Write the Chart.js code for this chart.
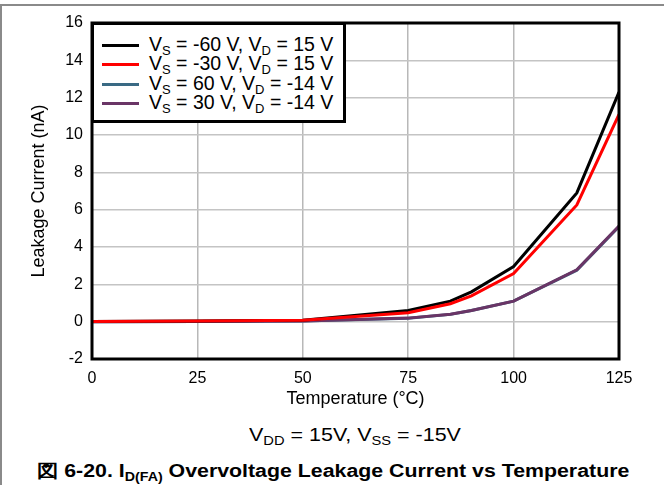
<!DOCTYPE html>
<html>
<head>
<meta charset="utf-8">
<script src="https://cdn.jsdelivr.net/npm/chart.js@4"></script>
<style>
  html, body { margin:0; padding:0; background:#fff; }
  #wrap { position:relative; width:664px; height:485px; overflow:hidden; font-family:"Liberation Sans", Arial, sans-serif; }
  #frameTop { position:absolute; left:0; top:4px; width:664px; height:2px; background:#8a8a8a; }
  #frameLeft { position:absolute; left:0; top:4px; width:2px; height:481px; background:#8a8a8a; }
  canvas { position:absolute; left:0; top:0; }
  #legend { position:absolute; left:91px; top:22px; width:249px; height:95px; border:3px solid #000; background:#fff; }
  .row { position:absolute; left:0; height:20px; font-size:19.5px; color:#000; white-space:nowrap; }
  .row .ln { position:absolute; left:8px; top:9px; width:37px; height:3px; }
  .row .tx { position:absolute; left:55px; top:-1px; line-height:20px; }
  sub { font-size:13px; vertical-align:-4px; line-height:0; }
  #sub { position:absolute; left:249px; top:424px; font-size:19px; white-space:nowrap; transform:scaleX(1.13); transform-origin:0 0; }
  #sub sub { font-size:13px; }
  #cap { position:absolute; left:37px; top:459px; font-size:18px; font-weight:bold; white-space:nowrap; transform:scaleX(1.185); transform-origin:0 0; }
  #cap sub { font-size:12px; }
</style>
</head>
<body>
<div id="wrap">
  <div id="frameTop"></div>
  <div id="frameLeft"></div>
  <canvas id="c" width="664" height="410"></canvas>
  <div id="legend"></div>
  <div id="sub">V<sub>DD</sub> = 15V, V<sub>SS</sub> = -15V</div>
  <div id="cap">図 6-20. I<sub>D(FA)</sub> Overvoltage Leakage Current vs Temperature</div>
</div>
<script>
const temperatures = [0, 25, 50, 75, 85, 90, 100, 115, 125];
const vsNeg60 = [0.01, 0.03, 0.08, 0.60, 1.10, 1.60, 2.95, 6.90, 12.30];
const vsNeg30 = [0.01, 0.03, 0.07, 0.48, 0.96, 1.38, 2.58, 6.25, 11.10];
const vsPos60 = [0.00, 0.01, 0.03, 0.18, 0.39, 0.60, 1.10, 2.76, 5.10];
const vsPos30 = [0.00, 0.01, 0.03, 0.19, 0.40, 0.60, 1.10, 2.78, 5.12];
const legendLabels = [
  ['-60', '15'],
  ['-30', '15'],
  ['60', '-14'],
  ['30', '-14']
];
const colors = ['#000000', '#ff0000', '#3a6a84', '#6a3566'];
const seriesList = [vsNeg60, vsNeg30, vsPos60, vsPos30];
const drawOrder = [1, 0, 3, 2];

const toPts = arr => arr.map((v, i) => ({x: temperatures[i], y: v}));

const FONT = '"Liberation Sans", Arial, sans-serif';

const framePlugin = {
  id: 'frame',
  afterDraw(chart) {
    const a = chart.chartArea, ctx = chart.ctx;
    ctx.save();
    ctx.strokeStyle = '#000';
    ctx.lineWidth = 3;
    ctx.strokeRect(a.left, a.top, a.right - a.left, a.bottom - a.top);
    ctx.restore();
  }
};

new Chart(document.getElementById('c'), {
  type: 'line',
  data: {
    datasets: seriesList.map((s, i) => ({
      label: 'VS = ' + legendLabels[i][0] + ' V, VD = ' + legendLabels[i][1] + ' V',
      data: toPts(s),
      borderColor: colors[i],
      backgroundColor: colors[i],
      borderWidth: 3,
      pointRadius: 0,
      tension: 0,
      order: drawOrder[i]
    }))
  },
  options: {
    responsive: false,
    animation: false,
    devicePixelRatio: 1,
    layout: { padding: { left: 0, right: 45, top: 23, bottom: 0 } },
    plugins: { legend: { display: false }, tooltip: { enabled: false } },
    scales: {
      x: {
        type: 'linear', min: 0, max: 125,
        afterFit(s) { s.height = 51; },
        grid: { color: '#b8b8b8', lineWidth: 1.5, drawTicks: false },
        border: { display: false },
        ticks: { stepSize: 25, padding: 10, color: '#000', font: { family: FONT, size: 16 } },
        title: { display: true, text: 'Temperature (°C)', color: '#000', font: { family: FONT, size: 18 }, padding: { top: 0, bottom: 0 } }
      },
      y: {
        min: -2, max: 16,
        afterFit(s) { s.width = 92; },
        grid: { color: '#c4c4c4', lineWidth: 1.5, drawTicks: false },
        border: { display: false },
        ticks: {
          stepSize: 1, padding: 9, color: '#000', font: { family: FONT, size: 16 },
          callback: v => (v % 2 === 0 ? String(v) : '')
        },
        title: { display: true, text: 'Leakage Current (nA)', color: '#000', font: { family: FONT, size: 18 }, padding: { top: 28, bottom: 0 } }
      }
    }
  },
  plugins: [framePlugin]
});

const leg = document.getElementById('legend');
const rowTops = [10, 29, 49, 68];
legendLabels.forEach((l, i) => {
  const r = document.createElement('div');
  r.className = 'row';
  r.style.top = rowTops[i] + 'px';
  r.innerHTML = '<div class="ln" style="background:' + colors[i] + '"></div>' +
    '<div class="tx">V<sub>S</sub> = ' + l[0] + ' V, V<sub>D</sub> = ' + l[1] + ' V</div>';
  leg.appendChild(r);
});
</script>
</body>
</html>
